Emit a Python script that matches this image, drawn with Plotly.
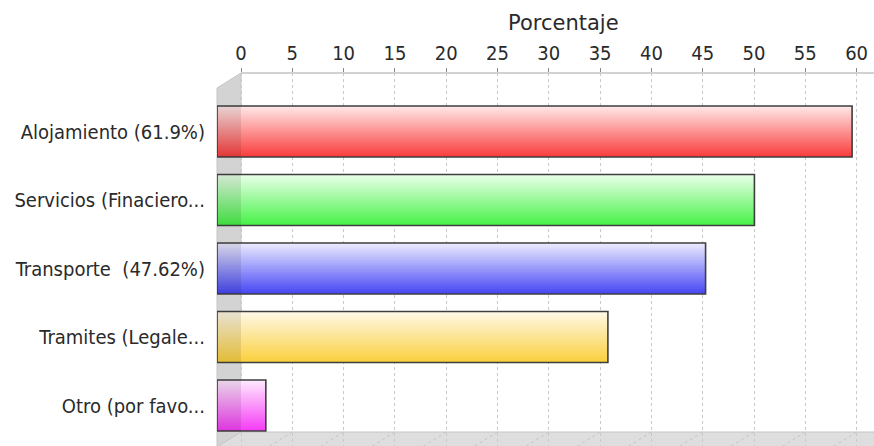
import plotly.graph_objects as go

# ---- data ----
categories = ["Alojamiento (61.9%)", "Servicios (Finaciero...", "Transporte  (47.62%)",
              "Tramites (Legale...", "Otro (por favo..."]
values = [61.9, 52.38, 47.62, 38.1, 4.76]
tick_values = [0, 5, 10, 15, 20, 25, 30, 35, 40, 45, 50, 55, 60]
axis_title = "Porcentaje"

# ---- style ----
top_colors = [(255, 230, 230), (232, 255, 232), (234, 234, 255), (255, 248, 230), (255, 232, 255)]
bottom_colors = [(250, 62, 62), (72, 242, 72), (72, 72, 245), (250, 208, 62), (245, 62, 245)]

W, H = 874, 446
ML, MT = 217, 73
PW, PH = W - ML, H - MT
DX, DY = 24, 15          # 3-D depth offset in pixels
UNIT = 10.26             # pixels per percent
CAT_PX = 68.5            # pixels per category
FIRST_CENTER = 131.5 - MT
BAR_W = 51 / CAT_PX
N_STRIPS = 30
FONT_C = "DejaVu Sans Condensed, Liberation Sans Narrow, DejaVu Sans, sans-serif"
FONT = "DejaVu Sans, sans-serif"
TXT = "#2a2a2a"

y_top = -FIRST_CENTER / CAT_PX
y_bot = y_top + PH / CAT_PX

fig = go.Figure()

def lerp(a, b, t):
    return tuple(round(a[i] + (b[i] - a[i]) * t) for i in range(3))

# gradient strips for each bar (opaque, slightly overlapping)
for k in range(N_STRIPS):
    t = k / (N_STRIPS - 1)
    cols = ["rgb(%d,%d,%d)" % lerp(top_colors[i], bottom_colors[i], t)
            for i in range(len(values))]
    fig.add_trace(go.Bar(
        x=values, y=categories, orientation="h",
        offset=-BAR_W / 2 + k * BAR_W / N_STRIPS,
        width=BAR_W / N_STRIPS * (1.6 if k < N_STRIPS - 1 else 1.0),
        marker=dict(color=cols, line=dict(width=0)),
        xaxis="x", yaxis="y", hoverinfo="skip", showlegend=False))

# outline
fig.add_trace(go.Bar(
    x=values, y=categories, orientation="h",
    offset=-BAR_W / 2, width=BAR_W,
    marker=dict(color="rgba(0,0,0,0)", line=dict(color="#3e3e3e", width=1.6)),
    xaxis="x", yaxis="y", showlegend=False,
    hovertemplate="%{y}: %{x}<extra></extra>"))

# dummy trace for the back (tick) axis
fig.add_trace(go.Scatter(x=[0], y=[categories[0]], mode="markers",
                         marker=dict(opacity=0), xaxis="x2", yaxis="y",
                         hoverinfo="skip", showlegend=False))

def px(xp):
    return (xp - ML) / PW

def py(yp):
    return (H - yp) / PH

x_back = px(ML + DX)
y_floor = py(H - DY + 1)
wall = "M %f,%f L %f,%f L %f,%f L %f,%f Z" % (
    px(ML), py(MT + DY), x_back, 1.0, x_back, y_floor, px(ML), py(H + 1))
floor = "M %f,%f L %f,%f L %f,%f L %f,%f Z" % (
    x_back, y_floor, 1.1, y_floor, 1.1, py(H + 1), px(ML), py(H + 1))
shapes = [
    dict(type="path", path=wall, xref="paper", yref="paper", layer="between",
         fillcolor="#d3d3d3", line=dict(color="#c6c6c6", width=1)),
    dict(type="path", path=floor, xref="paper", yref="paper", layer="between",
         fillcolor="#dedede", line=dict(color="#c6c6c6", width=1)),
    # top axis line (starts at the back wall)
    dict(type="line", xref="paper", yref="paper", layer="between",
         x0=x_back, x1=1, y0=1, y1=1, line=dict(color="#a4a4a4", width=1)),
]
for tv in tick_values[1:]:
    shapes.append(dict(type="line", xref="x2", yref="paper", layer="between",
                       x0=tv, x1=tv - DX / UNIT, y0=y_floor, y1=py(H + 1),
                       line=dict(color="#c4c4c4", width=1, dash="3px,3px")))
# wall seen through the translucent bars
for i in range(len(categories)):
    shapes.append(dict(type="rect", xref="x", yref="y", layer="above",
                       x0=0, x1=min(values[i], DX / UNIT),
                       y0=i - BAR_W / 2, y1=i + BAR_W / 2,
                       fillcolor="rgba(0,0,0,0.09)", line=dict(width=0)))

fig.update_layout(
    width=W, height=H,
    margin=dict(l=ML, r=0, t=MT, b=0, pad=0),
    paper_bgcolor="white", plot_bgcolor="white",
    barmode="overlay",
    font=dict(family=FONT, color=TXT),
    shapes=shapes,
    annotations=[dict(text=axis_title, xref="paper", yref="paper",
                      x=px(563), y=py(23), xanchor="center", yanchor="middle",
                      showarrow=False, font=dict(size=21, family=FONT, color=TXT))],
    xaxis=dict(domain=[0, 1], range=[0, PW / UNIT], visible=False, anchor="y",
               fixedrange=True),
    xaxis2=dict(overlaying="x", range=[-DX / UNIT, (PW - DX) / UNIT], side="top", anchor="y",
                tickmode="array", tickvals=tick_values, ticktext=[str(v) for v in tick_values],
                showline=False,
                ticks="outside", ticklen=4, tickcolor="#8a8a8a", tickwidth=1,
                showgrid=True, gridcolor="#cacaca", griddash="3px,3px", gridwidth=1,
                zeroline=False, ticklabelstandoff=0,
                tickfont=dict(size=20, family=FONT_C, color=TXT),
                fixedrange=True),
    yaxis=dict(type="category", categoryorder="array", categoryarray=categories,
               range=[y_bot, y_top], anchor="x", domain=[0, 1],
               showgrid=False, showline=False, zeroline=False, ticks="",
               ticklabelstandoff=11,
               tickfont=dict(size=20, family=FONT_C, color=TXT), fixedrange=True),
)

fig.write_html("out.html")
